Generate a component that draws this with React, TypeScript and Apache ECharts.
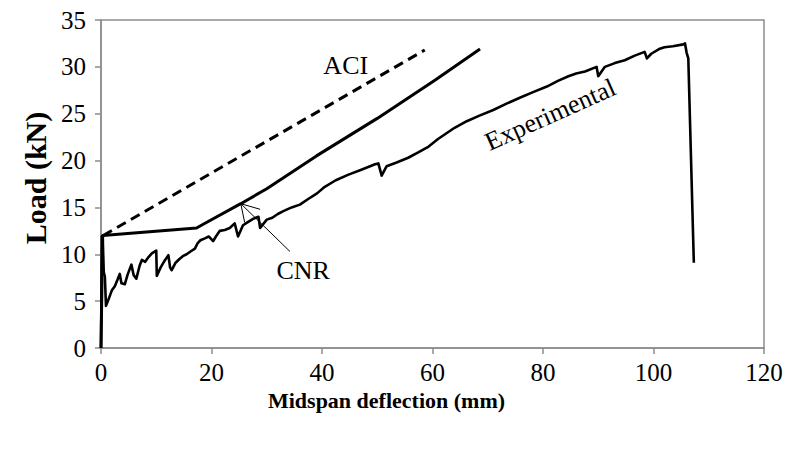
import React, { useEffect, useRef } from "react";
import * as echarts from "echarts";

// X: midspan deflection (mm), Y: load (kN)
const experimental: [number, number][] = [
  [0, 0], [0.15, 11.9], [0.3, 12.0], [0.5, 8.1], [0.7, 7.6], [0.9, 4.5], [1.1, 4.8], [1.5, 5.4],
  [2.0, 6.2], [2.5, 6.6], [3.0, 7.3], [3.4, 7.9], [3.7, 6.9], [4.3, 6.8], [4.8, 7.8], [5.5, 8.9],
  [5.9, 7.8], [6.4, 7.4], [7.0, 8.8], [7.4, 9.4], [8.0, 9.2], [8.6, 9.7], [9.2, 10.1], [10.0, 10.4],
  [10.1, 7.7], [10.8, 8.6], [11.6, 9.4], [12.2, 9.9], [12.5, 8.6], [12.8, 8.3], [13.5, 9.1],
  [14.2, 9.5], [14.8, 9.8], [15.5, 10.0], [16.2, 10.3], [17.0, 10.6], [17.5, 11.2], [18.0, 11.5],
  [18.8, 11.7], [19.5, 11.9], [20.3, 11.4], [20.8, 11.9], [21.5, 12.5], [22.4, 12.6], [23.3, 12.8],
  [24.2, 13.3], [24.8, 11.9], [25.7, 13.1], [26.5, 13.4], [27.6, 13.8], [28.5, 14.0], [28.8, 12.8],
  [30.0, 13.7], [31.0, 13.9], [32.0, 14.3], [33.0, 14.6], [34.5, 15.0], [36.0, 15.3], [37.5, 15.9],
  [39.1, 16.5], [40.5, 17.2], [42.5, 17.9], [44.8, 18.5], [47.0, 19.0], [49.6, 19.6], [50.2, 19.7],
  [50.8, 18.4], [51.7, 19.4], [53.5, 19.8], [55.6, 20.3], [57.5, 20.9], [59.3, 21.5], [61.0, 22.3],
  [62.0, 22.7], [64.0, 23.5], [66.2, 24.2], [68.5, 24.8], [71.0, 25.4], [73.5, 26.1], [75.8, 26.7],
  [78.2, 27.3], [80.7, 27.9], [82.7, 28.5], [84.6, 29.0], [86.0, 29.3], [87.6, 29.5], [89.7, 30.0],
  [90.0, 29.0], [91.2, 30.0], [93.0, 30.4], [94.8, 30.7], [96.6, 31.2], [98.4, 31.6], [98.8, 30.9],
  [99.6, 31.4], [101.0, 31.9], [102.0, 32.1], [103.5, 32.2], [105.4, 32.4], [105.7, 32.5],
  [106.0, 31.5], [106.3, 30.9], [107.3, 9.1],
];

const cnr: [number, number][] = [
  [0, 0], [0.3, 12.0], [17.3, 12.8], [18.5, 13.2], [25.3, 15.4], [30.0, 17.0], [39.0, 20.5],
  [50.0, 24.5], [60.5, 28.6], [68.6, 31.9],
];

const aci: [number, number][] = [
  [0.4, 12.0], [58.6, 31.8],
];

// annotation texts (data coordinates)
const labelAci: [number, number, string] = [44.3, 30.1, "ACI"];
const labelCnr: [number, number, string] = [36.6, 8.25, "CNR"];
const labelExp: [number, number, string] = [81.3, 24.9, "Experimental"];

// CNR leader arrow (data coordinates)
const arrowHead: [number, number][] = [[28.8, 14.8], [25.3, 15.4], [34.2, 10.3]];
const arrowBarb: [number, number][] = [[25.3, 15.4], [26.0, 13.4]];

const xMin = 0, xMax = 120, xStep = 20;
const yMin = 0, yMax = 35, yStep = 5;

const FONT = "'Liberation Serif', 'Times New Roman', serif";
const AXIS_GREY = "#8c8c8c";

export default function App() {
  const ref = useRef<HTMLDivElement>(null);
  useEffect(() => {
    if (!ref.current) return;
    const chart = echarts.init(ref.current, undefined, { renderer: "svg" });
    const textLabel = (d: [number, number, string], rotate = 0) => ({
      type: "scatter",
      data: [d],
      symbolSize: 0,
      silent: true,
      z: 5,
      itemStyle: { color: "#000", opacity: 1 },
      label: {
        show: true,
        position: "inside",
        formatter: (p: any) => p.value[2],
        color: "#000",
        opacity: 1,
        textBorderWidth: 0,
        fontFamily: FONT,
        fontSize: 26,
        rotate,
      },
    });
    chart.setOption({
      animation: false,
      backgroundColor: "#fff",
      grid: {
        left: 101, right: 25, top: 20, bottom: 102,
        show: true, borderColor: AXIS_GREY, borderWidth: 1.5,
      },
      xAxis: {
        type: "value", min: xMin, max: xMax, interval: xStep,
        name: "Midspan deflection (mm)", nameLocation: "middle", nameGap: 37,
        nameTextStyle: {
          fontFamily: FONT, fontWeight: "bold", fontSize: 22, color: "#000",
          padding: [0, 92, 0, 0],
        },
        axisLine: { lineStyle: { color: AXIS_GREY, width: 1.5 } },
        axisTick: { show: true, length: 6, lineStyle: { color: AXIS_GREY, width: 1.5 } },
        axisLabel: { fontFamily: FONT, fontSize: 25, color: "#000", margin: 12 },
        splitLine: { show: false },
      },
      yAxis: {
        type: "value", min: yMin, max: yMax, interval: yStep,
        name: "Load (kN)", nameLocation: "middle", nameGap: 50,
        nameTextStyle: {
          fontFamily: FONT, fontWeight: "bold", fontSize: 30, color: "#000",
          padding: [0, 0, 0, 12],
        },
        axisLine: { show: true, lineStyle: { color: AXIS_GREY, width: 1.5 } },
        axisTick: { show: true, length: 6, lineStyle: { color: AXIS_GREY, width: 1.5 } },
        axisLabel: { fontFamily: FONT, fontSize: 25, color: "#000", margin: 15 },
        splitLine: { show: false },
      },
      series: [
        {
          type: "line", name: "ACI", data: aci, symbol: "none", silent: true,
          lineStyle: { color: "#000", width: 3, type: [10, 6] },
        },
        {
          type: "line", name: "CNR", data: cnr, symbol: "none", silent: true,
          lineStyle: { color: "#000", width: 3 },
        },
        {
          type: "line", name: "Experimental", data: experimental, symbol: "none", silent: true,
          lineStyle: { color: "#000", width: 2.6, join: "round" },
        },
        {
          type: "line", data: arrowHead, symbol: "none", silent: true,
          lineStyle: { color: "#000", width: 1 },
        },
        {
          type: "line", data: arrowBarb, symbol: "none", silent: true,
          lineStyle: { color: "#000", width: 1 },
        },
        textLabel(labelAci),
        textLabel(labelCnr),
        textLabel(labelExp, 24),
      ],
    });
    return () => chart.dispose();
  }, []);
  return (
    <div
      ref={ref}
      style={{ position: "fixed", left: 0, top: 0, width: 789, height: 450, background: "#fff" }}
    />
  );
}
